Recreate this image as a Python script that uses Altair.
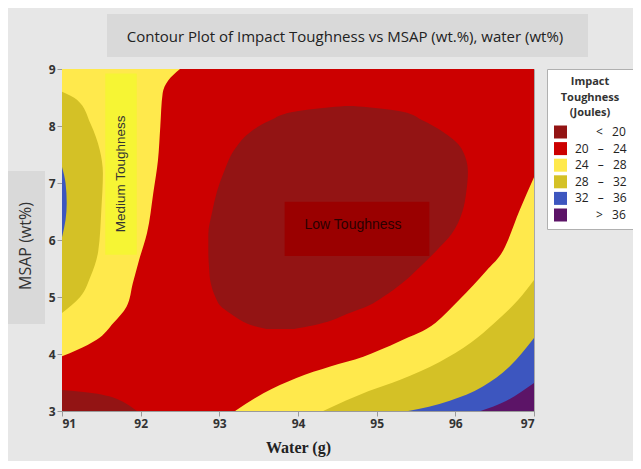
import altair as alt
import pandas as pd

# ---- legend categories & colours ----
SP = "\u2002"   # en space
NB = "\u00a0"   # no-break space
ZW = "\u200b"   # zero-width space keeps leading padding from being trimmed
cat_labels = [
    ZW + SP * 3 + NB + "<" + SP + NB + "20",
    "20" + SP + NB + "\u2013" + SP + NB + "24",
    "24" + SP + NB + "\u2013" + SP + NB + "28",
    "28" + SP + NB + "\u2013" + SP + NB + "32",
    "32" + SP + NB + "\u2013" + SP + NB + "36",
    ZW + SP * 3 + NB + ">" + SP + NB + "36",
]
cat_colors = ["#931414", "#cc0000", "#ffe94c", "#d4c126", "#3d56bf", "#5c1467"]

# ---- contour boundaries ----
# left bands: x runs from 91 to the boundary, as a function of y
left_yellow_y = [3.96, 4.07, 4.25, 4.54, 4.83, 5.24, 5.65, 6.12, 6.82, 7.4, 8.0, 8.58, 8.8, 9.0]
left_yellow_x = [91.0, 91.19, 91.44, 91.65, 91.82, 91.9, 91.98, 92.08, 92.16, 92.22, 92.25, 92.28, 92.35, 92.5]

left_olive_y = [4.72, 5.0, 5.35, 5.8, 6.53, 7.17, 7.58, 8.05, 8.46, 8.6]
left_olive_x = [91.0, 91.23, 91.36, 91.46, 91.5, 91.52, 91.48, 91.36, 91.19, 91.0]

left_blue_y = [6.05, 6.35, 6.65, 7.0, 7.28]
left_blue_x = [91.0, 91.045, 91.06, 91.045, 91.0]

# bottom bands: y runs from 3 to the boundary, as a function of x
corner_dark_x = [91.0, 91.3, 91.5, 91.7, 91.85, 91.95]
corner_dark_y = [3.37, 3.33, 3.29, 3.21, 3.1, 3.0]

br_yellow_x = [93.2, 93.56, 93.98, 94.41, 94.83, 95.04, 95.3, 95.75, 96.05, 96.4, 96.61, 96.82, 97.0]
br_yellow_y = [3.0, 3.31, 3.58, 3.78, 3.95, 4.07, 4.23, 4.55, 4.95, 5.47, 5.82, 6.53, 7.1]

br_olive_x = [94.32, 94.9, 95.3, 95.8, 96.2, 96.5, 96.8, 97.0]
br_olive_y = [3.0, 3.35, 3.55, 3.86, 4.2, 4.55, 4.95, 5.3]

br_blue_x = [95.4, 95.93, 96.35, 96.69, 97.0]
br_blue_y = [3.0, 3.18, 3.43, 3.78, 4.28]

br_purple_x = [96.32, 96.65, 97.0]
br_purple_y = [3.0, 3.18, 3.49]

# central low-toughness blob: left and right edges as a function of y
blob_y = [4.44, 4.5, 4.6, 4.7, 4.85, 5.0, 5.25, 5.5, 5.8, 6.1, 6.5, 6.85, 7.2, 7.6, 7.9, 8.1, 8.25, 8.32, 8.35]
blob_l = [93.6, 93.42, 93.26, 93.15, 93.01, 92.95, 92.89, 92.87, 92.86, 92.86, 92.91, 92.97, 93.06, 93.2, 93.4, 93.65, 93.95, 94.35, 94.6]
blob_r = [93.95, 94.19, 94.45, 94.62, 94.9, 95.08, 95.33, 95.53, 95.75, 95.95, 96.09, 96.14, 96.16, 96.08, 95.84, 95.58, 95.33, 94.95, 94.7]

# annotation boxes
medium_box = {"x": 91.55, "x2": 91.95, "y": 5.74, "y2": 8.92}
low_box = {"x": 93.83, "x2": 95.67, "y": 5.72, "y2": 6.67}
medium_label = {"x": 91.75, "y": 7.16, "text": "Medium Toughness"}
low_label = {"x": 94.7, "y": 6.26, "text": "Low Toughness"}

x_ticks = [91, 92, 93, 94, 95, 96, 97]
y_ticks = [3, 4, 5, 6, 7, 8, 9]
X0, X1, Y0, Y1 = 91.0, 97.0, 3.0, 9.0

xs = alt.Scale(domain=[X0, X1], nice=False, zero=False)
ys = alt.Scale(domain=[Y0, Y1], nice=False, zero=False)
color = alt.Color(
    "cat:N",
    scale=alt.Scale(domain=cat_labels, range=cat_colors),
    title=["Impact", "Toughness", "(Joules)"],
    legend=alt.Legend(
        orient="none", legendX=485, legendY=0, padding=7,
        fillColor="white", strokeColor="#b0b0b0",
        symbolType="square", symbolSize=169, symbolStrokeWidth=0,
        labelFont="Open Sans", labelFontSize=12, labelColor="#222222", labelOffset=8,
        rowPadding=3.6,
        titleFont="Open Sans", titleFontSize=11, titleFontWeight="bold", titleColor="#333333",
        titleAlign="center", titleAnchor="middle", titleLineHeight=15.5, titlePadding=7.5,
    ),
)

def xenc(f):
    return alt.X(f, type="quantitative", scale=xs, title="Water (g)",
                 axis=alt.Axis(values=x_ticks, format="d"))

def yenc(f):
    return alt.Y(f, type="quantitative", scale=ys, title=None,
                 axis=alt.Axis(values=y_ticks, format="d"))

bg_df = pd.DataFrame({"x": [X0], "x2": [X1], "y": [Y0], "y2": [Y1], "cat": [cat_labels[1]]})
background = alt.Chart(bg_df).mark_rect().encode(
    x=xenc("x"), x2="x2", y=yenc("y"), y2="y2", color=color)

def hband(yv, xv, cat):
    df = pd.DataFrame({"y": yv, "x": xv, "x0": X0, "cat": cat})
    return alt.Chart(df).mark_area(orient="horizontal", interpolate="monotone", clip=True).encode(
        y=yenc("y"), x=xenc("x0"), x2="x", color=color)

def vband(xv, yv, cat):
    df = pd.DataFrame({"x": xv, "y": yv, "y0": Y0, "cat": cat})
    return alt.Chart(df).mark_area(orient="vertical", interpolate="monotone", clip=True).encode(
        x=xenc("x"), y=yenc("y0"), y2="y", color=color)

blob_df = pd.DataFrame({"y": blob_y, "x": blob_l, "x2": blob_r, "cat": cat_labels[0]})
blob = alt.Chart(blob_df).mark_area(orient="horizontal", interpolate="monotone", clip=True).encode(
    y=yenc("y"), x=xenc("x"), x2="x2", color=color)

def box(d, fill):
    return alt.Chart(pd.DataFrame([d])).mark_rect(color=fill).encode(
        x=xenc("x"), x2="x2", y=yenc("y"), y2="y2")

med_text = alt.Chart(pd.DataFrame([medium_label])).mark_text(
    angle=270, font="Liberation Sans", fontSize=13.5, color="#333333").encode(
    x=xenc("x"), y=yenc("y"), text="text:N")
low_text = alt.Chart(pd.DataFrame([low_label])).mark_text(
    font="Liberation Sans", fontSize=14, color="#2a0000").encode(
    x=xenc("x"), y=yenc("y"), text="text:N")

one = pd.DataFrame({"a": [0]})
title_box = alt.Chart(one).mark_rect(color="#d9d9d9").encode(
    x=alt.value(45), x2=alt.value(526), y=alt.value(-55), y2=alt.value(-12))
title_text = alt.Chart(one).mark_text(
    text="Contour Plot of Impact Toughness vs MSAP (wt.%), water (wt%)",
    font="Open Sans", fontSize=15, color="#222222", align="center", baseline="middle").encode(
    x=alt.value(283), y=alt.value(-32))
ytitle_box = alt.Chart(one).mark_rect(color="#d9d9d9").encode(
    x=alt.value(-56), x2=alt.value(-17), y=alt.value(102), y2=alt.value(255))
ytitle_text = alt.Chart(one).mark_text(
    text="MSAP (wt%)", angle=270,
    font="Open Sans", fontSize=16, color="#333333", align="center", baseline="middle").encode(
    x=alt.value(-36), y=alt.value(177))

chart = alt.layer(
    title_box, title_text, ytitle_box, ytitle_text,
    background,
    hband(left_yellow_y, left_yellow_x, cat_labels[2]),
    hband(left_olive_y, left_olive_x, cat_labels[3]),
    hband(left_blue_y, left_blue_x, cat_labels[4]),
    vband(corner_dark_x, corner_dark_y, cat_labels[0]),
    vband(br_yellow_x, br_yellow_y, cat_labels[2]),
    vband(br_olive_x, br_olive_y, cat_labels[3]),
    vband(br_blue_x, br_blue_y, cat_labels[4]),
    vband(br_purple_x, br_purple_y, cat_labels[5]),
    blob,
    box(medium_box, "#f6f534"),
    box(low_box, "#9a0000"),
    med_text, low_text,
).properties(
    width=472, height=342,
    autosize=alt.AutoSizeParams(type="none"),
    padding={"left": 54, "top": 61, "right": 99, "bottom": 50},
    background="#e7e7e7",
).configure_view(
    stroke="#a8a8a8", strokeWidth=1
).configure_axis(
    grid=False, zindex=1,
    domainColor="#9a9a9a", tickColor="#9a9a9a", tickSize=5,
    labelFont="Open Sans", labelFontSize=12, labelFontWeight="bold", labelColor="#333333",
    labelPadding=2,
).configure_axisX(
    titleFont="Liberation Serif", titleFontSize=16, titleFontWeight="bold", titleColor="#222222",
    titlePadding=10,
)

chart.save("out.html", embed_options={"renderer": "svg", "actions": False})
